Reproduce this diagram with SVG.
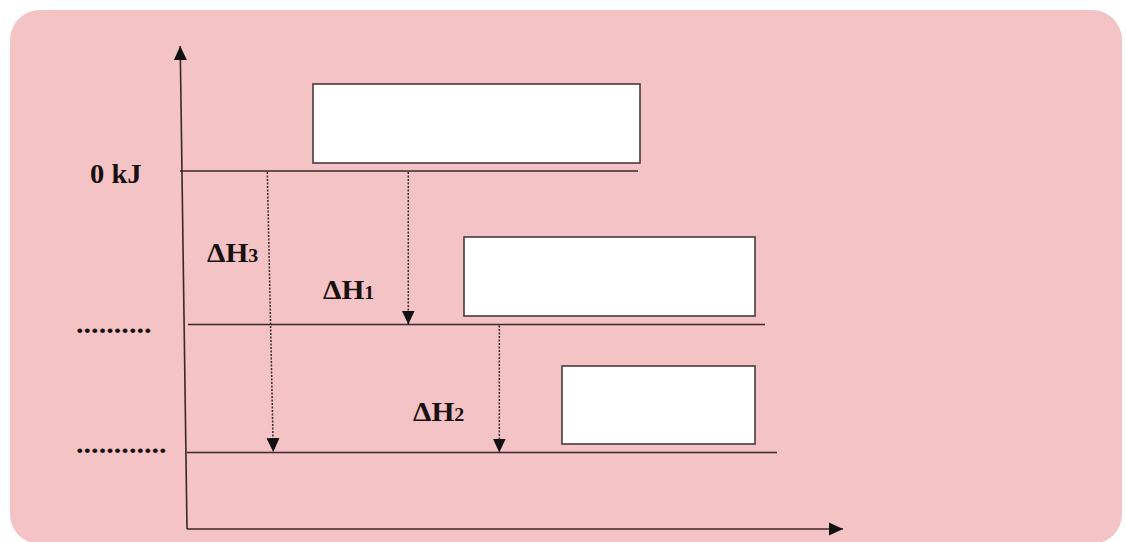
<svg xmlns="http://www.w3.org/2000/svg" width="1126" height="542" viewBox="0 0 1126 542">
  <defs>
    <style>
      .ln { stroke: #3a2828; stroke-width: 1.6; fill: none; }
      .dash { stroke: #3a2828; stroke-width: 1.5; fill: none; stroke-dasharray: 2 1.5; }
      .box { fill: #ffffff; stroke: #4a3a3a; stroke-width: 1.6; }
      .lbl { font-family: "Liberation Serif", "Times New Roman", serif; font-weight: bold; font-size: 28px; fill: #1a1010; }
      .sub { font-size: 19px; }
    </style>
    <marker id="ah" viewBox="0 0 14 14" refX="14" refY="7" markerWidth="14" markerHeight="14" markerUnits="userSpaceOnUse" orient="auto">
      <path d="M0,0.5 L14,7 L0,13.5 Z" fill="#111"/>
    </marker>
  </defs>

  <rect x="0" y="0" width="1126" height="542" fill="#ffffff"/>
  <rect id="panel" x="10" y="10" width="1112" height="534" rx="30" ry="30" fill="#f4c3c5"/>

  <g id="axes">
    <line class="ln" x1="187" y1="529" x2="180.2" y2="46" marker-end="url(#ah)"/>
    <line class="ln" x1="187" y1="529" x2="843" y2="529" marker-end="url(#ah)"/>
  </g>

  <g id="levels">
    <line class="ln" x1="180" y1="171" x2="638" y2="171"/>
    <line class="ln" x1="188" y1="324.5" x2="765" y2="324.5"/>
    <line class="ln" x1="187" y1="452.5" x2="777" y2="452.5"/>
  </g>

  <g id="box1"><rect class="box" x="313" y="84" width="327" height="79"/></g>
  <g id="box2"><rect class="box" x="464" y="237" width="291" height="79"/></g>
  <g id="box3"><rect class="box" x="562" y="366" width="193" height="78"/></g>

  <g id="connectors">
    <line class="dash" x1="267.3" y1="172" x2="273.3" y2="452" marker-end="url(#ah)"/>
    <line class="dash" x1="408.3" y1="172" x2="408.3" y2="324.5" marker-end="url(#ah)"/>
    <line class="dash" x1="499.3" y1="325.5" x2="499.3" y2="452.5" marker-end="url(#ah)"/>
  </g>

  <g id="labels">
    <g transform="translate(90,183) scale(1.02,1)"><text class="lbl" x="0" y="0">0 kJ</text></g>
    <g transform="translate(207,262) scale(1.05,1)"><text class="lbl" x="0" y="0">ΔH<tspan class="sub">3</tspan></text></g>
    <g transform="translate(323,299) scale(1.05,1)"><text class="lbl" x="0" y="0">ΔH<tspan class="sub">1</tspan></text></g>
    <g transform="translate(413,421) scale(1.05,1)"><text class="lbl" x="0" y="0">ΔH<tspan class="sub">2</tspan></text></g>
    <g transform="translate(76,333) scale(1.08,1)"><text class="lbl" x="0" y="0">..........</text></g>
    <g transform="translate(76,453) scale(1.08,1)"><text class="lbl" x="0" y="0">............</text></g>
  </g>
</svg>
